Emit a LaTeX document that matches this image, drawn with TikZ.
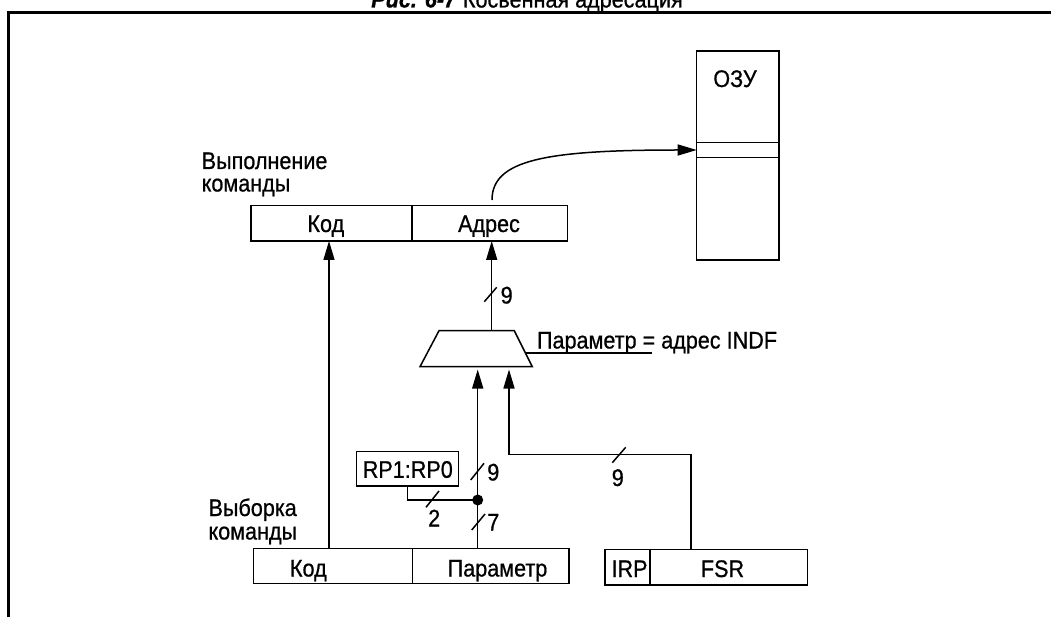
\documentclass[tikz,border=0pt]{standalone}
\usepackage{fontspec}
\setmainfont{Liberation Sans}[FakeStretch=0.9, FakeBold=0.7]
\usetikzlibrary{arrows.meta}
\begin{document}
\begin{tikzpicture}[x=1pt,y=-1pt,
  every node/.style={font=\fontsize{24pt}{24pt}\selectfont, inner sep=0pt, outer sep=0pt},
  ln/.style={line width=1.5pt},
  cell/.style={draw, line width=1.5pt, inner sep=0pt},
  arr/.style={line width=1.5pt, -{Triangle[length=19pt,width=11pt]}},
  lbl/.style={anchor=base}]
\useasboundingbox (0,0) rectangle (1051,617);
\fill[white] (0,0) rectangle (1051,617);
% frame
\draw[line width=3pt] (8.5,617) -- (8.5,12.5) -- (1051,12.5);
\node[anchor=base] (title) at (527,7.5) {\textbf{\textit{Рис. 6-7}} Косвенная адресация};

% RAM
\node[cell, minimum width=82.3pt, minimum height=209pt] (ram) at (737.85,155.5) {};
\node[cell, minimum width=82.3pt, minimum height=14.6pt] (ramcell) at (737.85,150) {};
\node[lbl] (ramlbl) at (735,87) {ОЗУ};

% execution register
\node[anchor=base west] (exl1) at (201.7,169) {Выполнение};
\node[anchor=base west] (exl2) at (201.7,191.5) {команды};
\node[cell, minimum width=161pt, minimum height=35.3pt] (ek) at (331.5,223.35) {};
\node[cell, minimum width=155.7pt, minimum height=35.3pt] (ea) at (489.85,223.35) {};
\node[lbl] (ektxt) at (325.8,232) {Код};
\node[lbl] (eatxt) at (489,232) {Адрес};

% multiplexer
\draw[ln] (420,366.7) -- (439,330.7) -- (514.3,330.7) -- (532.3,366.7) -- cycle;
\coordinate (muxout) at (491.7,330.7);
\coordinate (muxin1) at (477.7,369.5);
\coordinate (muxin2) at (509,369.5);
\coordinate (muxedge) at (525.4,353);
\coordinate (leaderend) at (652,353);
\draw[ln] (muxedge) -- (leaderend);
\node[anchor=base west] (muxlbl) at (537,348.5) {Параметр = адрес INDF};

% fetch register
\node[anchor=base west] (fl1) at (208.5,516) {Выборка};
\node[anchor=base west] (fl2) at (208.5,539.5) {команды};
\node[cell, minimum width=159.4pt, minimum height=35pt] (fk) at (333,565.8) {};
\node[cell, minimum width=156.3pt, minimum height=35pt] (fp) at (490.85,565.8) {};
\node[lbl] (fktxt) at (308.3,576.5) {Код};
\node[lbl] (fptxt) at (497.5,576.5) {Параметр};

% IRP / FSR
\node[cell, minimum width=45pt, minimum height=35.7pt] (irp) at (627.5,567.15) {};
\node[cell, minimum width=157.7pt, minimum height=35.7pt] (fsr) at (728.85,567.15) {};
\node[lbl] (irptxt) at (629.5,577) {IRP};
\node[lbl] (fsrtxt) at (722.5,577) {FSR};

% RP1:RP0
\node[cell, minimum width=101.6pt, minimum height=34.3pt] (rp) at (407.5,468.85) {};
\node[lbl] (rptxt) at (407.8,477.8) {RP1:RP0};
\node[circle, fill, inner sep=0pt, minimum size=11pt] (dot) at (477.7,500) {};

% connectors
\coordinate (kx) at (329,0);
\draw[arr] (fk.north -| kx) -- (ek.south -| kx);
\draw[arr] (fp.north -| dot) -- (muxin1);
\draw[ln] (rp.south) |- (dot.center);
\coordinate (fsrtap) at (691,549.3);
\coordinate (bend) at (509,454.3);
\draw[arr] (fsrtap) |- (bend) -- (muxin2);
\draw[arr] (muxout) -- (ea.south -| muxout);
\coordinate (cstart) at (492,200);
\draw[arr] (cstart) .. controls (492,160) and (545,150) .. (ramcell.west);

% bus width ticks
\draw[ln] (484.3,301.7) -- (496.7,287.3);
\draw[ln] (426,507.3) -- (439,491);
\draw[ln] (470.7,480) -- (484,463.3);
\draw[ln] (471.7,530) -- (485,514);
\draw[ln] (612.3,462.7) -- (625.7,447.3);
\node[lbl] (n9a) at (506.7,303.5) {9};
\node[lbl] (n9b) at (493.3,480.5) {9};
\node[lbl] (n7) at (493.3,530.5) {7};
\node[lbl] (n2) at (434.2,526.5) {2};
\node[lbl] (n9c) at (617.8,486) {9};
\end{tikzpicture}
\end{document}
